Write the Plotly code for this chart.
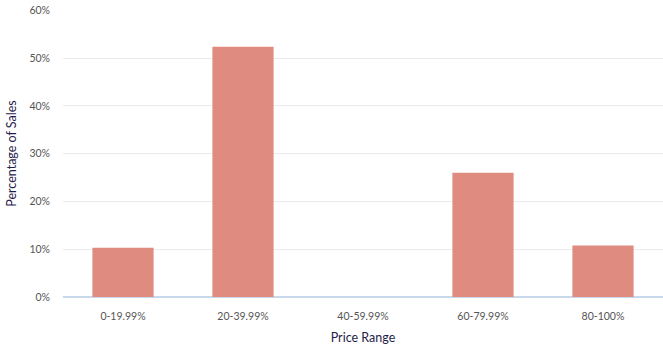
import plotly.graph_objects as go

categories = ["0-19.99%", "20-39.99%", "40-59.99%", "60-79.99%", "80-100%"]
values = [10.3, 52.4, 0, 26.0, 10.8]
y_ticks = [0, 10, 20, 30, 40, 50, 60]
y_tick_labels = ["0%", "10%", "20%", "30%", "40%", "50%", "60%"]

fig = go.Figure(go.Bar(
    x=categories, y=values,
    marker=dict(color="#E08B80", line=dict(width=0)),
))

fig.update_layout(
    width=663, height=347,
    margin=dict(l=63, r=0, t=10, b=50),
    plot_bgcolor="white", paper_bgcolor="white",
    bargap=0.49,
    showlegend=False,
    font=dict(family="Lato, Noto Sans, sans-serif", size=10.5, color="#555555"),
)
fig.update_xaxes(
    title=dict(text="Price Range", font=dict(size=12.5, color="#1f1d4a"), standoff=12),
    showgrid=False, showline=False, ticks="", ticklabelstandoff=11,
    tickfont=dict(size=10.5, color="#555555"),
)
fig.update_yaxes(
    title=dict(text="Percentage of Sales", font=dict(size=12.5, color="#1f1d4a"), standoff=10),
    range=[0, 60.1], tickvals=y_ticks, ticktext=y_tick_labels,
    showgrid=True, gridcolor="#ebebeb", gridwidth=1,
    zeroline=True, zerolinecolor="#c9d9ec", zerolinewidth=1.5,
    ticks="", ticklabelstandoff=12, tickfont=dict(size=10.5, color="#555555"),
)

fig.write_html("out.html")
